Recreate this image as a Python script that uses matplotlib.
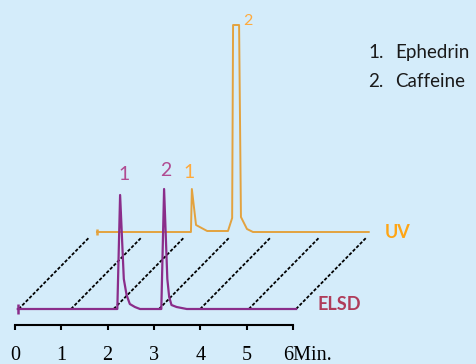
import numpy as np
import matplotlib.pyplot as plt

# ELSD trace: retention time (min) and detector response
elsd_time = [0.06, 2.21, 2.27, 2.35, 2.41, 2.48, 2.59, 2.70, 3.16, 3.22, 3.29, 3.33, 3.38, 3.49, 3.71, 6.07]
elsd_resp = [0, 0, 114, 30, 14, 5, 2, 0, 0, 120, 30, 12, 4, 2, 0, 0]
elsd_peaks = [2, 9]

# UV trace, the caffeine peak saturates the detector
uv_time = [0.26, 2.29, 2.31, 2.40, 2.64, 3.09, 3.18, 3.20, 3.33, 3.37, 3.50, 3.63, 6.13]
uv_resp = [0, 0, 43, 7, 1, 1, 14, 207, 207, 15, 3, 0, 0]
uv_peaks = [2, 8]

compounds = ['Ephedrin', 'Caffeine']
ticks = [0, 1, 2, 3, 4, 5, 6]
guide_time = [0.08, 1.21, 2.13, 3.11, 4.0, 5.05, 6.07]

bg = '#d4ecfa'
elsd_color = '#8a2d8a'
uv_color = '#e3a23e'

# UV trace sits behind the ELSD one, shifted back and up
depth_t = 1.51
depth_y = 77

fig = plt.figure(figsize=(4.76, 3.64), dpi=100, facecolor=bg)
ax = fig.add_axes([0, 0, 1, 1])
ax.set_facecolor(bg)
ax.set_xlim(-15 / 46.3, 461 / 46.3)
ax.set_ylim(-55, 309)

for t in guide_time:
    ax.plot([t, t + depth_t], [0, depth_y - 6], color='black', lw=1.3,
            dashes=(1.8, 1.0), zorder=1)

uv_x = np.array(uv_time) + depth_t
uv_y = np.array(uv_resp) + depth_y
ax.plot(uv_x, uv_y, color=uv_color, lw=1.4, zorder=2)
ax.plot(uv_x[0], uv_y[0], marker='|', ms=5, mew=1.8, color=uv_color, zorder=2)

ax.plot(elsd_time, elsd_resp, color=elsd_color, lw=1.6, zorder=3)
ax.plot(elsd_time[0], elsd_resp[0], marker='|', ms=7, mew=1.8, color=elsd_color, zorder=3)

# peak numbers
label_font = dict(family='Lato', ha='center', va='center', textcoords='offset pixels')
for i, off in zip(elsd_peaks, [(4, 20), (2, 18)]):
    ax.annotate(str(elsd_peaks.index(i) + 1), (elsd_time[i], elsd_resp[i]), xytext=off,
                color='#b04b91', fontsize=14, **label_font)
for i, off, fs in zip(uv_peaks, [(-3, 16), (9, 4)], [14, 11.5]):
    ax.annotate(str(uv_peaks.index(i) + 1), (uv_x[i], uv_y[i]), xytext=off,
                color='#ffaa3c', fontsize=fs, **label_font)

ax.annotate('UV', (uv_x[-1], uv_y[-1]), xytext=(16, 0), textcoords='offset pixels',
            ha='left', va='center', color='#ffa514', fontsize=13, fontweight='bold', family='Lato')
ax.annotate('ELSD', (elsd_time[-1], elsd_resp[-1]), xytext=(21, 5), textcoords='offset pixels',
            ha='left', va='center', color='#af3c5a', fontsize=13, fontweight='bold', family='Lato')

# time axis
for s in ['left', 'right', 'top']:
    ax.spines[s].set_visible(False)
ax.spines['bottom'].set_position(('data', -16))
ax.spines['bottom'].set_bounds(0, 6)
ax.spines['bottom'].set_linewidth(1.5)
ax.set_xticks(ticks)
ax.set_yticks([])
ax.tick_params(axis='x', length=3.5, width=1.5, labelbottom=False)
for t in ticks:
    if t < 6:
        ax.annotate(str(t), (t, -16), xytext=(0, -35), textcoords='offset pixels',
                    ha='center', va='baseline', fontsize=14.5, family='Liberation Serif')
    else:
        ax.annotate(f'{t}Min.', (t, -16), xytext=(-10, -35), textcoords='offset pixels',
                    ha='left', va='baseline', fontsize=14.5, family='Liberation Serif')

for k, name in enumerate(compounds):
    y = 0.8415 - k * 0.0797
    ax.text(0.773, y, f'{k + 1}.', transform=ax.transAxes, ha='left', va='baseline',
            fontsize=13.5, family='Lato', color='#1a1a1a')
    ax.text(0.830, y, name, transform=ax.transAxes, ha='left', va='baseline',
            fontsize=13.5, family='Lato', color='#1a1a1a')

plt.savefig('out.png', dpi=100, facecolor=bg)
